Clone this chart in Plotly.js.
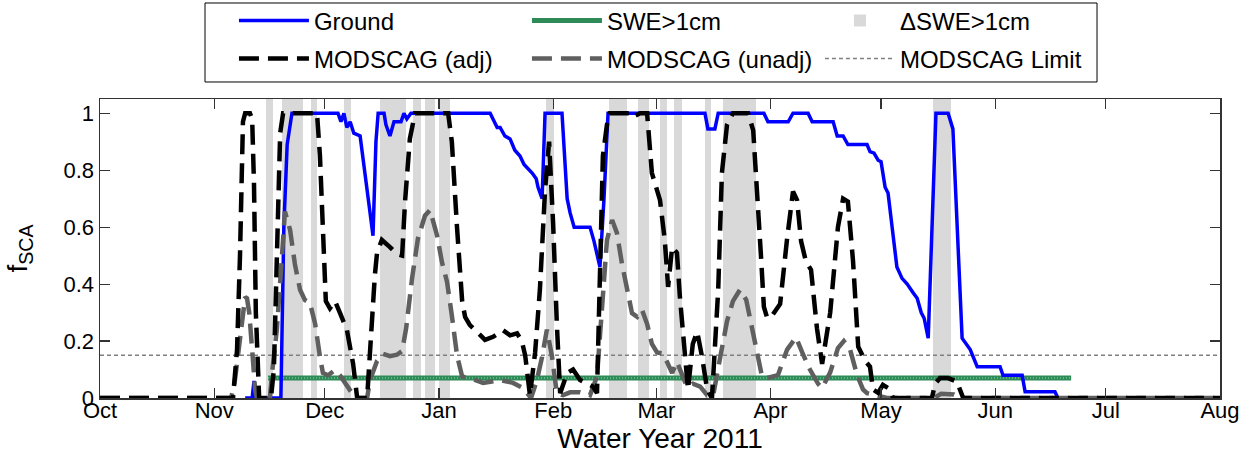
<!DOCTYPE html>
<html>
<head>
<meta charset="utf-8">
<script src="https://cdn.plot.ly/plotly-3.0.1.min.js"></script>
<style>html,body{margin:0;padding:0;background:#fff;}#chart{width:1252px;height:465px;}</style>
</head>
<body>
<div id="chart"></div>
<script>
// x values are days since 1 Oct 2010 (Water Year 2011)
var monthDays = [0, 31, 61, 92, 123, 151, 182, 212, 243, 273, 304];
var monthLabels = ['Oct', 'Nov', 'Dec', 'Jan', 'Feb', 'Mar', 'Apr', 'May', 'Jun', 'Jul', 'Aug'];
var yTickVals = [0, 0.2, 0.4, 0.6, 0.8, 1];
var yTickText = ['0', '0.2', '0.4', '0.6', '0.8', '1'];

// Ground fSCA
var groundDay = [39.4, 41.3, 41.8, 42.3, 49.1, 49.9, 50.8, 52.1, 64.6, 65.4, 66.2, 67.0, 67.9, 68.9, 70.6, 71.9, 73.3, 74.1, 74.9, 75.5,
  77.1, 77.6, 78.7, 79.8, 81.7, 82.5, 83.3, 84.4, 105.9, 107.8, 108.6, 109.9, 111.3, 112.6, 114.0, 115.1, 115.9, 117.3, 118.4, 118.9, 120.0,
  120.8, 125.4, 126.8, 127.6, 128.7, 133.0, 134.1, 135.7, 136.8, 137.9, 164.2, 165.0, 166.9, 167.8, 180.2, 181.3, 186.8, 188.1, 192.2,
  193.3, 199.0, 200.1, 201.7, 203.0, 208.2, 209.0, 210.1, 211.2, 212.0, 213.1, 213.9, 215.0, 216.3, 217.7, 219.1, 220.7, 221.8, 222.9,
  223.7, 224.8, 226.9, 230.2, 231.5, 234.0, 235.1, 236.2, 238.1, 244.3, 245.1, 250.3, 251.1, 259.2, 260.0, 304];
var groundVal = [0, 0, 0.06, 0, 0, 0.6, 0.89, 1, 1, 0.97, 1, 0.95, 0.97, 0.93, 0.92, 0.8, 0.65, 0.57, 0.9, 1,
  1, 0.96, 0.92, 0.97, 0.97, 1, 0.98, 1, 1, 0.95, 0.95, 0.92, 0.91, 0.87, 0.85, 0.82, 0.81, 0.79, 0.77, 0.74, 0.70,
  1, 1, 0.70, 0.65, 0.60, 0.60, 0.55, 0.46, 0.7, 1, 1, 0.945, 0.945, 1, 1, 0.97, 0.97, 1, 1,
  0.97, 0.97, 0.92, 0.92, 0.89, 0.89, 0.865, 0.86, 0.835, 0.83, 0.74, 0.72, 0.6, 0.46, 0.42, 0.40, 0.37, 0.35, 0.30,
  0.28, 0.21, 1, 1, 0.945, 0.21, 0.19, 0.17, 0.11, 0.11, 0.08, 0.08, 0.022, 0.022, 0, 0];

// MODSCAG (adj)
var adjDay = [0, 36.1, 37.2, 38.0, 38.8, 39.4, 40.7, 41.3, 41.8, 42.3, 43.2, 46.4, 47.2, 48.0, 48.9, 49.7, 58.9, 59.7, 60.5, 61.3,
  62.4, 63.8, 65.1, 67.0, 68.7, 69.8, 72.5, 73.3, 74.6, 75.2, 76.5, 78.7, 80.6, 82.0, 82.8, 84.1, 85.5, 94.5, 95.5, 96.9,
  98.3, 99.1, 100.4, 102.3, 104.5, 106.7, 109.4, 111.3, 113.2, 114.5, 115.4, 116.7, 118.1, 119.4, 120.8, 121.9, 123.0, 124.0, 124.9,
  126.8, 128.4, 130.3, 132.2, 133.8, 134.9, 135.7, 136.5, 137.6, 138.4, 143.9, 144.7, 146.6, 148.5, 149.8, 151.2, 152.0, 153.3,
  154.2, 155.3, 156.6, 157.4, 158.8, 159.6, 160.9, 162.1, 163.4, 164.8, 166.1, 167.8, 168.8, 170.2, 171.8, 175.9, 177.3, 178.3,
  179.4, 180.2, 181.0, 181.9, 184.6, 186.5, 188.1, 189.2, 190.3, 191.6, 193.0, 194.6, 196.0, 198.2, 200.3, 201.7, 203.0, 204.4,
  205.8, 207.7, 209.0, 209.8, 211.2, 212.5, 213.9, 215.3, 225.8, 226.7, 228.0, 230.2, 232.6, 234.3, 304];
var adjVal = [0, 0, 0.17, 0.5, 0.97, 1, 1, 0.98, 0.75, 0.3, 0, 0, 0.1, 0.55, 0.93, 1, 1, 0.85, 0.55, 0.34,
  0.315, 0.34, 0.30, 0.24, 0.12, 0, 0, 0.18, 0.43, 0.51, 0.555, 0.53, 0.505, 0.50, 0.69, 0.91, 1, 1, 0.9, 0.6,
  0.34, 0.285, 0.256, 0.233, 0.204, 0.215, 0.238, 0.22, 0.227, 0.20, 0.15, 0.01, 0.16, 0.38, 0.73, 0.9, 0.61, 0.26, 0.017,
  0.088, 0.10, 0.063, 0.05, 0.04, 0.017, 0.5, 0.85, 0.96, 1, 1, 0.987, 1, 1, 0.79, 0.72, 0.695, 0.554,
  0.39, 0.53, 0.51, 0.355, 0.145, 0.03, 0.19, 0.233, 0.145, 0.03, 0, 0.38, 0.79, 0.96, 1, 1, 0.94, 0.75,
  0.5, 0.32, 0.285, 0.28, 0.33, 0.56, 0.725, 0.695, 0.55, 0.48, 0.45, 0.245, 0.12, 0.30, 0.6, 0.70, 0.69, 0.48,
  0.18, 0.13, 0.11, 0.03, 0.018, 0.046, 0.035, 0, 0, 0.05, 0.07, 0.07, 0.057, 0, 0];

// MODSCAG (unadj)
var unadjDay = [0, 35.6, 36.6, 38.0, 39.4, 39.9, 40.5, 41.3, 42.1, 42.6, 46.1, 46.7, 48.0, 49.4, 50.2, 51.6, 52.9, 54.3, 55.6, 57.0,
  58.4, 59.7, 60.5, 61.9, 63.8, 65.1, 67.0, 68.4, 70.0, 72.5, 73.3, 75.2, 76.8, 78.7, 80.6, 82.0, 83.1, 84.7, 86.3, 88.2,
  89.6, 91.5, 92.8, 94.2, 95.5, 96.9, 98.3, 100.4, 104.0, 108.6, 112.1, 114.8, 117.0, 118.6, 120.0, 121.3, 122.7, 124.0, 125.7,
  127.6, 130.3, 133.0, 134.9, 136.3, 137.6, 139.0, 140.3, 141.7, 143.1, 144.4, 145.8, 147.1, 148.5, 149.8, 151.2, 152.6, 153.9,
  155.3, 156.6, 157.9, 159.3, 160.9, 162.9, 164.8, 166.4, 168.3, 170.2, 171.8, 173.7, 175.4, 176.7, 178.1, 179.7, 181.0, 184.0,
  186.5, 188.9, 190.6, 192.7, 194.9, 196.0, 198.2, 200.3, 201.9, 203.6, 205.5, 207.1, 208.2, 210.9, 213.6, 226.4, 228.3, 231.8,
  233.7, 304];
var unadjVal = [0, 0, 0.06, 0.2, 0.355, 0.35, 0.3, 0.17, 0.03, 0, 0, 0.088, 0.24, 0.5, 0.655, 0.59, 0.47, 0.38, 0.344, 0.333,
  0.26, 0.145, 0.088, 0.08, 0.098, 0.08, 0.04, 0.017, 0, 0, 0.063, 0.13, 0.155, 0.147, 0.152, 0.165, 0.245, 0.42, 0.56, 0.64,
  0.66, 0.57, 0.478, 0.408, 0.29, 0.15, 0.075, 0.07, 0.053, 0.063, 0.053, 0.035, 0, 0.063, 0.145, 0.24, 0.145, 0.017, 0.01,
  0.02, 0.02, 0.01, 0.075, 0.333, 0.554, 0.625, 0.58, 0.47, 0.37, 0.298, 0.285, 0.31, 0.26, 0.19, 0.16, 0.157, 0.127,
  0.088, 0.127, 0.088, 0.04, 0.05, 0.04, 0.01, 0.007, 0.14, 0.27, 0.34, 0.38, 0.345, 0.26, 0.16, 0.075, 0.07, 0.08,
  0.17, 0.213, 0.16, 0.1, 0.05, 0.035, 0.09, 0.175, 0.20, 0.17, 0.08, 0.03, 0.017, 0.01, 0, 0, 0.015, 0.012,
  0, 0];

// SWE > 1 cm indicator
var sweDay = [45.6, 263.6];
var sweVal = [0.07, 0.07];

// MODSCAG detection limit
var limitDay = [0, 304];
var limitVal = [0.15, 0.15];

// Periods with delta SWE > 1 cm (start / end day)
var bandStart = [45.0, 49.3, 57.2, 66.1, 76.0, 85.0, 88.2, 92.1, 121.0, 138.1, 146.1, 152.1, 155.9, 164.2, 169.2, 226.0];
var bandEnd   = [46.9, 55.0, 58.8, 68.0, 83.1, 87.0, 91.0, 95.0, 123.3, 143.0, 149.1, 153.8, 157.9, 165.9, 178.0, 230.9];

var yTop = 1.05;
var bandX = bandStart.map(function (s, i) { return (s + bandEnd[i]) / 2; });
var bandW = bandStart.map(function (s, i) { return bandEnd[i] - s; });
var bandY = bandStart.map(function () { return yTop; });

var FONT = 'Liberation Sans, Arial, Helvetica, sans-serif';
var DASH = '20px,9px';

var traces = [
  {type: 'bar', x: bandX, y: bandY, width: bandW, base: 0, name: '\u0394SWE>1cm',
   marker: {color: '#d9d9d9', line: {width: 0}}, legend: 'legend', legendrank: 3},
  {type: 'scatter', mode: 'lines', x: sweDay, y: sweVal, name: 'SWE>1cm',
   line: {color: '#2e8b57', width: 5}, legend: 'legend', legendrank: 2},
  {type: 'scatter', mode: 'lines', x: sweDay, y: sweVal, name: 'SWE>1cm texture', showlegend: false,
   line: {color: '#6fc497', width: 1.5, dash: '1px,2px'}},
  {type: 'scatter', mode: 'lines', x: limitDay, y: limitVal, name: 'MODSCAG Limit',
   line: {color: '#808080', width: 1.5, dash: '4px,3px'}, legend: 'legend2', legendrank: 3},
  {type: 'scatter', mode: 'lines', x: groundDay, y: groundVal, name: 'Ground',
   line: {color: '#0000ff', width: 3.5}, legend: 'legend', legendrank: 1},
  {type: 'scatter', mode: 'lines', x: unadjDay, y: unadjVal, name: 'MODSCAG (unadj)',
   line: {color: '#5f5f5f', width: 4.5, dash: DASH}, legend: 'legend2', legendrank: 2},
  {type: 'scatter', mode: 'lines', x: adjDay, y: adjVal, name: 'MODSCAG (adj)',
   line: {color: '#000000', width: 4.5, dash: DASH}, legend: 'legend2', legendrank: 1}
];

var legendCommon = {
  orientation: 'h', xanchor: 'left', yanchor: 'middle', x: 0.1196,
  bgcolor: 'rgba(0,0,0,0)', borderwidth: 0, itemwidth: 70,
  entrywidth: 208, entrywidthmode: 'pixels',
  font: {family: FONT, size: 24, color: '#000'}, itemclick: false, itemdoubleclick: false
};

var layout = {
  width: 1252, height: 465,
  margin: {l: 100, r: 32, t: 99, b: 67, autoexpand: false},
  paper_bgcolor: '#fff', plot_bgcolor: '#fff',
  barmode: 'overlay', bargap: 0,
  hovermode: false,
  font: {family: FONT, size: 22, color: '#000'},
  xaxis: {
    range: [0, 304], tickmode: 'array', tickvals: monthDays, ticktext: monthLabels,
    ticks: 'inside', ticklen: 10, tickwidth: 1.2, tickcolor: '#333',
    showline: true, linecolor: '#333', linewidth: 1.5, mirror: 'ticks',
    showgrid: false, zeroline: false, ticklabelstandoff: -8,
    tickfont: {family: FONT, size: 22},
    title: {text: 'Water Year 2011', font: {family: FONT, size: 28}, standoff: 0}
  },
  yaxis: {
    range: [0, yTop], tickmode: 'array', tickvals: yTickVals, ticktext: yTickText,
    ticks: 'inside', ticklen: 10, tickwidth: 1.2, tickcolor: '#333',
    showline: true, linecolor: '#333', linewidth: 1.5, mirror: 'ticks',
    showgrid: false, zeroline: false,
    tickfont: {family: FONT, size: 22},
    title: {text: 'f<sub>SCA</sub>', font: {family: FONT, size: 28}, standoff: 27}
  },
  legend: Object.assign({}, legendCommon, {y: 1.261}),
  legend2: Object.assign({}, legendCommon, {y: 1.134}),
  shapes: [{type: 'rect', xref: 'paper', yref: 'paper', x0: 0.09375, x1: 0.8902, y0: 1.0569, y1: 1.3211,
            line: {color: '#000', width: 1}, fillcolor: 'rgba(0,0,0,0)', layer: 'above'}],
  showlegend: true
};

Plotly.newPlot('chart', traces, layout, {displayModeBar: false, staticPlot: true});
</script>
</body>
</html>
